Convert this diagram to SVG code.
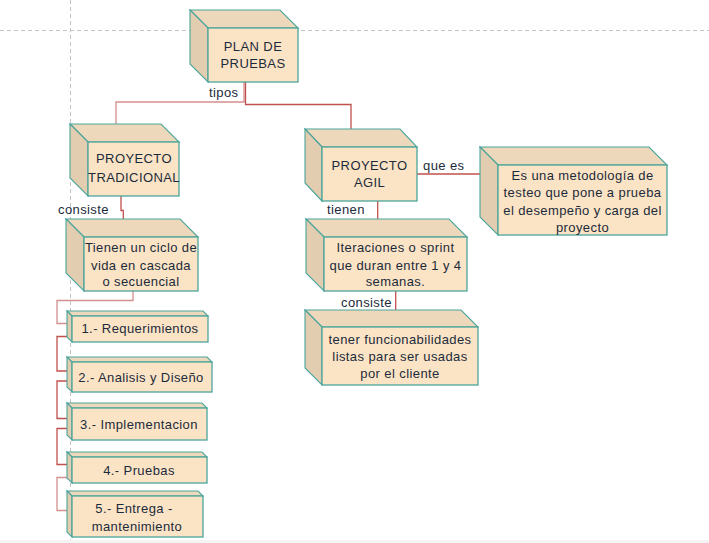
<svg xmlns="http://www.w3.org/2000/svg" width="709" height="543" viewBox="0 0 709 543">
<style>
.front{fill:#fbe4c5;stroke:#4ba59b;stroke-width:1.3}
.top{fill:#edd8bc;stroke:#4ba59b;stroke-width:1.1}
.side{fill:#e3cdb1;stroke:#4ba59b;stroke-width:1.1}
text{font-family:"Liberation Sans",Arial,sans-serif;font-size:13px;letter-spacing:0.4px;fill:#1b2b3b}
.c{text-anchor:middle}
.guide{stroke:#c4c4c4;stroke-width:1;stroke-dasharray:4 3;fill:none}
.lp{fill:none;stroke:#d48f8f;stroke-width:1.3}
.ld{fill:none;stroke:#c0504d;stroke-width:1.3}
</style>
<rect x="0" y="0" width="709" height="543" fill="#ffffff"/>
<rect x="0" y="540" width="709" height="3" fill="#f4f4f4"/>
<g id="guides">
<line class="guide" x1="0" y1="30.5" x2="709" y2="30.5"/>
<line class="guide" x1="70.5" y1="0" x2="70.5" y2="540"/>
</g>
<g id="connectors">
<path class="lp" d="M244,82 V102 H116 V124"/>
<path class="ld" d="M245.5,82 V104.5 H351 V129"/>
<path class="ld" d="M121,196 V210.5 H123.3 V219"/>
<path class="lp" d="M133,291 V300.5 H57 V323.5 H67"/>
<path class="ld" d="M67,336.5 H57 V371 H67"/>
<path class="ld" d="M67,381 H57 V418.5 H67"/>
<path class="ld" d="M67,428.5 H57 V464.5 H67"/>
<path class="lp" d="M67,477.5 H57 V510.5 H67"/>
<path class="ld" d="M417,174 H480"/>
<path class="ld" d="M377.7,201 V219"/>
<path class="ld" d="M395.7,291 V310"/>
<text x="209" y="97">tipos</text>
<text x="58" y="214">consiste</text>
<text x="423" y="170">que es</text>
<text x="327" y="214">tienen</text>
<text x="341" y="307">consiste</text>
</g>
<g id="plan">
<polygon class="top" points="190,10 280,10 298,28 208,28"/>
<polygon class="side" points="190,10 208,28 208,82 190,64"/>
<rect class="front" x="208" y="28" width="90" height="54"/>
<text class="c" x="253" y="50.5">PLAN DE</text>
<text class="c" x="253" y="68">PRUEBAS</text>
</g>
<g id="tradicional">
<polygon class="top" points="70,124 161,124 179,142 88,142"/>
<polygon class="side" points="70,124 88,142 88,196 70,178"/>
<rect class="front" x="88" y="142" width="91" height="54"/>
<text class="c" x="134" y="162.5">PROYECTO</text>
<text class="c" x="134" y="181.5">TRADICIONAL</text>
</g>
<g id="agil">
<polygon class="top" points="305,129 400,129 417,147 322,147"/>
<polygon class="side" points="305,129 322,147 322,201 305,183"/>
<rect class="front" x="322" y="147" width="95" height="54"/>
<text class="c" x="369.5" y="169.5">PROYECTO</text>
<text class="c" x="369.5" y="187">AGIL</text>
</g>
<g id="metodologia">
<polygon class="top" points="480,147 649,147 667,165 498,165"/>
<polygon class="side" points="480,147 498,165 498,235 480,217"/>
<rect class="front" x="498" y="165" width="169" height="70"/>
<text class="c" x="582.5" y="179.5">Es una metodología de</text>
<text class="c" x="582.5" y="197">testeo que pone a prueba</text>
<text class="c" x="582.5" y="214.5">el desempeño y carga del</text>
<text class="c" x="582.5" y="232">proyecto</text>
</g>
<g id="iteraciones">
<polygon class="top" points="306,219 449,219 467,237 324,237"/>
<polygon class="side" points="306,219 324,237 324,291 306,273"/>
<rect class="front" x="324" y="237" width="143" height="54"/>
<text class="c" x="395.5" y="252">Iteraciones o sprint</text>
<text class="c" x="395.5" y="269.5">que duran entre 1 y 4</text>
<text class="c" x="395.5" y="286">semanas.</text>
</g>
<g id="funcionabilidades">
<polygon class="top" points="305,310 461,310 478,327 322,327"/>
<polygon class="side" points="305,310 322,327 322,385 305,368"/>
<rect class="front" x="322" y="327" width="156" height="58"/>
<text class="c" x="400" y="344">tener funcionabilidades</text>
<text class="c" x="400" y="361">listas para ser usadas</text>
<text class="c" x="400" y="378">por el cliente</text>
</g>
<g id="ciclo">
<polygon class="top" points="66,219 180,219 198,237 84,237"/>
<polygon class="side" points="66,219 84,237 84,291 66,273"/>
<rect class="front" x="84" y="237" width="114" height="54"/>
<text class="c" x="141" y="252">Tienen un ciclo de</text>
<text class="c" x="141" y="270">vida en cascada</text>
<text class="c" x="141" y="286">o secuencial</text>
</g>
<g id="item1">
<polygon class="top" points="67,311 203,311 208,316 72,316"/>
<polygon class="side" points="67,311 72,316 72,342 67,337"/>
<rect class="front" x="72" y="316" width="136" height="26"/>
<text class="c" x="140" y="333">1.- Requerimientos</text>
</g>
<g id="item2">
<polygon class="top" points="67,357 207,357 212,362 72,362"/>
<polygon class="side" points="67,357 72,362 72,392 67,387"/>
<rect class="front" x="72" y="362" width="140" height="30"/>
<text class="c" x="141" y="382">2.- Analisis y Diseño</text>
</g>
<g id="item3">
<polygon class="top" points="67,403 202,403 207,408 72,408"/>
<polygon class="side" points="67,403 72,408 72,440 67,435"/>
<rect class="front" x="72" y="408" width="135" height="32"/>
<text class="c" x="139" y="428.5">3.- Implementacion</text>
</g>
<g id="item4">
<polygon class="top" points="67,452 202,452 207,457 72,457"/>
<polygon class="side" points="67,452 72,457 72,483 67,478"/>
<rect class="front" x="72" y="457" width="135" height="26"/>
<text class="c" x="139" y="474.5">4.- Pruebas</text>
</g>
<g id="item5">
<polygon class="top" points="67,491 198,491 203,496 72,496"/>
<polygon class="side" points="67,491 72,496 72,537 67,532"/>
<rect class="front" x="72" y="496" width="131" height="41"/>
<text class="c" x="134" y="513">5.- Entrega -</text>
<text class="c" x="137" y="531">mantenimiento</text>
</g>
</svg>
